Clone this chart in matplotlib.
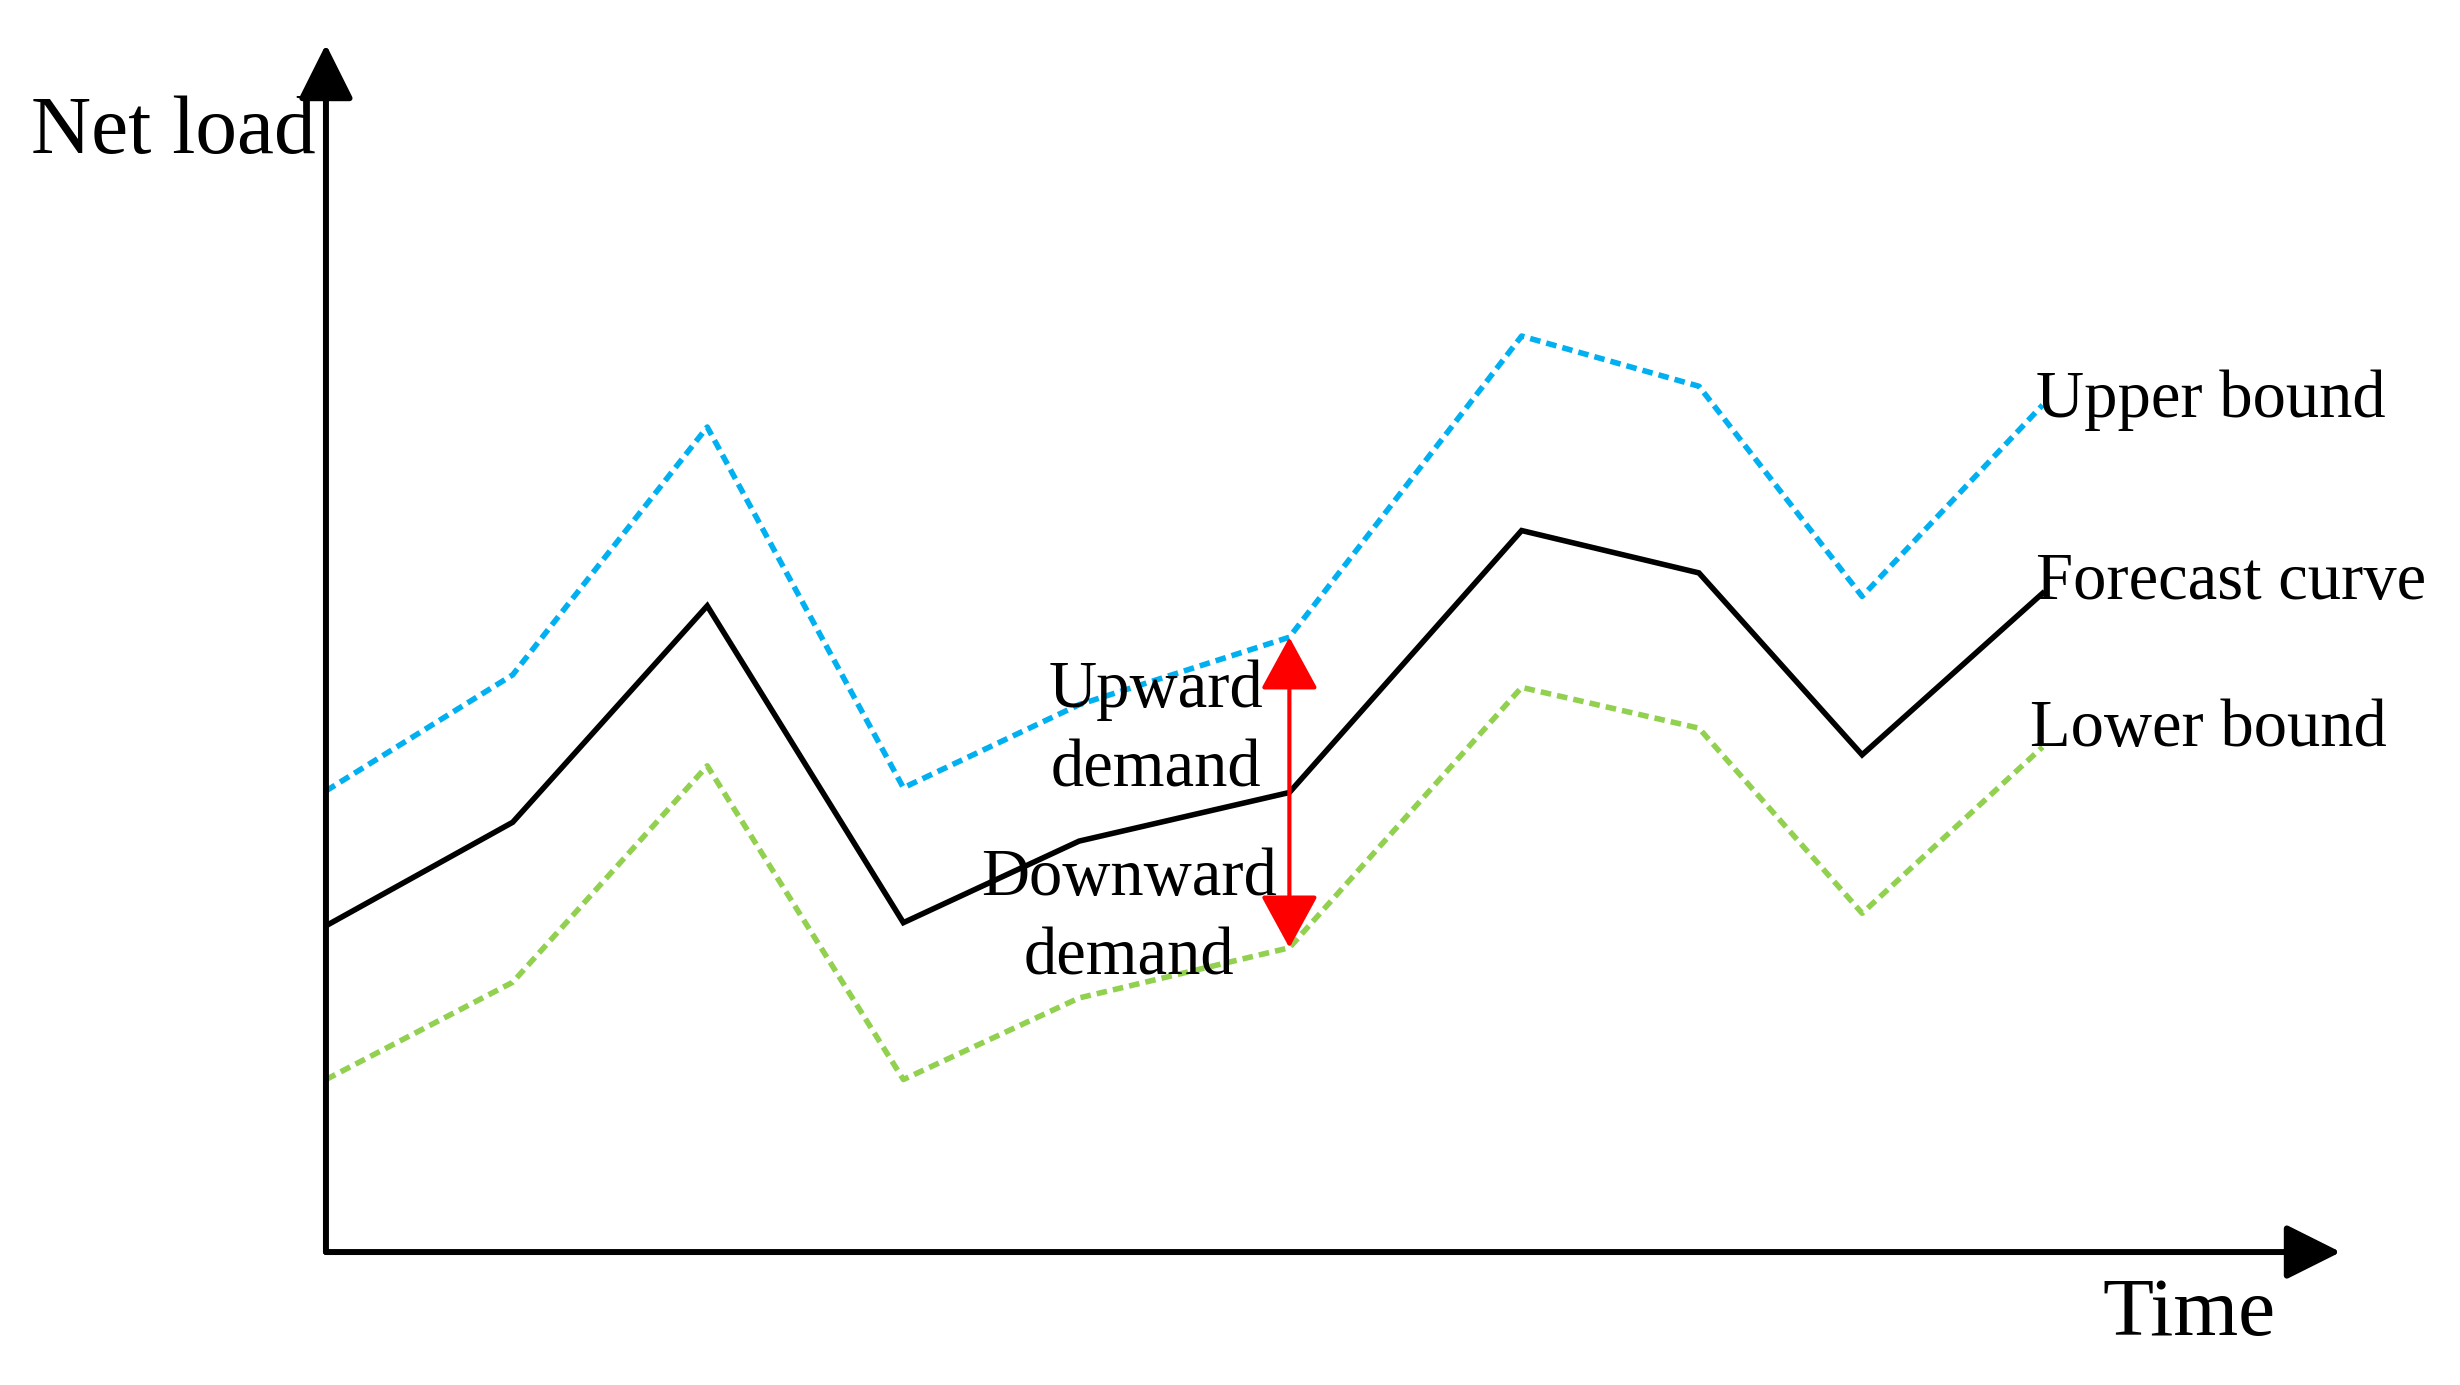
import matplotlib
matplotlib.use("Agg")
import matplotlib.pyplot as plt

plt.rcParams['font.family'] = ['Liberation Serif', 'DejaVu Serif']

# time points and net load values
time = [0, 1.19, 2.43, 3.68, 4.80, 6.14, 7.62, 8.75, 9.79, 10.94]
forecast = [2.08, 2.74, 4.12, 2.10, 2.62, 2.93, 4.60, 4.33, 3.17, 4.20]
upper = [2.94, 3.68, 5.26, 2.96, 3.49, 3.92, 5.84, 5.52, 4.18, 5.40]
lower = [1.10, 1.72, 3.10, 1.10, 1.62, 1.94, 3.60, 3.34, 2.16, 3.22]
demand_idx = 5  # where the red arrow sits

fig = plt.figure(figsize=(24.6, 13.85), dpi=100)
ax = fig.add_axes([0.1325, 0.096, 0.819, 0.872])
ax.set_xlim(0, 12.84)
ax.set_ylim(0, 7.70)
ax.axis('off')

ax.plot(time, upper, color='#00B0F0', lw=4, dashes=(1.9, 1.1))
ax.plot(time, lower, color='#92D050', lw=4, dashes=(1.9, 1.1))
ax.plot(time, forecast, color='black', lw=4, solid_joinstyle='miter')

# axes arrows
axis_arrow = dict(arrowstyle='-|>,head_length=3.4,head_width=1.7',
                  color='black', lw=4.3, shrinkA=0, shrinkB=0)
ax.annotate('', xy=(12.84, 0), xytext=(0, 0), arrowprops=axis_arrow,
            annotation_clip=False)
ax.annotate('', xy=(0, 7.70), xytext=(0, 0), arrowprops=axis_arrow,
            annotation_clip=False)

# red double arrow
ax.annotate('', xy=(time[demand_idx], upper[demand_idx]),
            xytext=(time[demand_idx], lower[demand_idx]),
            arrowprops=dict(arrowstyle='<|-|>,head_length=3.3,head_width=1.8',
                            color='red', lw=3, shrinkA=0, shrinkB=0))

fs_small = 48
fs_big = 60
ax.text(-1.88, 7.13, 'Net load', fontsize=fs_big, ha='left', va='center')
ax.text(11.32, -0.40, 'Time', fontsize=fs_big, ha='left', va='center')
ax.text(10.90, 5.43, 'Upper bound', fontsize=fs_small, ha='left', va='center')
ax.text(10.90, 4.27, 'Forecast curve', fontsize=fs_small, ha='left', va='center')
ax.text(10.86, 3.33, 'Lower bound', fontsize=fs_small, ha='left', va='center')
ax.text(5.29, 3.33, 'Upward\ndemand', fontsize=fs_small, ha='center', va='center',
        linespacing=1.39)
ax.text(5.12, 2.13, 'Downward\ndemand', fontsize=fs_small, ha='center', va='center',
        linespacing=1.39)

fig.savefig('out.png', dpi=100)
